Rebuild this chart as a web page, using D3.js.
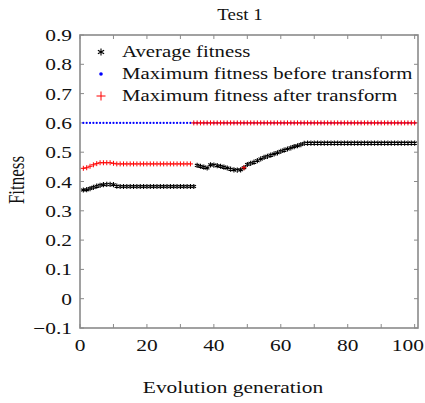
<!DOCTYPE html>
<html>
<head>
<meta charset="utf-8">
<script src="https://cdn.jsdelivr.net/npm/d3@7"></script>
<style>
body { margin: 0; background: #fff; }
text { font-family: "Liberation Serif", "Times New Roman", serif; fill: #111; }
</style>
</head>
<body>
<div class="chart"></div>
<script>
const width = 425;
const height = 403;

// generations 1..100
const gens = d3.range(1, 101);

// average fitness, first part (gens 1-34) and second part (gens 35-100)
const avgEarly = [0.371, 0.372, 0.376, 0.380, 0.384, 0.387, 0.389, 0.390, 0.390, 0.389,
    0.384, 0.383, 0.383, 0.383, 0.383, 0.383, 0.383, 0.383, 0.383, 0.383,
    0.383, 0.383, 0.383, 0.383, 0.383, 0.383, 0.383, 0.383, 0.383, 0.383,
    0.383, 0.383, 0.383, 0.383];
const avgLate = [0.455, 0.452, 0.449, 0.446, 0.457, 0.456, 0.454, 0.452, 0.449, 0.446,
    0.442, 0.440, 0.439, 0.440, 0.447, 0.458, 0.462, 0.466, 0.471, 0.477,
    0.482, 0.486, 0.490, 0.494, 0.498, 0.503, 0.507, 0.511, 0.515, 0.519,
    0.522, 0.526, 0.530, 0.531, 0.531, 0.531, 0.531, 0.531, 0.531, 0.531,
    0.531, 0.531, 0.531, 0.531, 0.531, 0.531, 0.531, 0.531, 0.531, 0.531,
    0.531, 0.531, 0.531, 0.531, 0.531, 0.531, 0.531, 0.531, 0.531, 0.531,
    0.531, 0.531, 0.531, 0.531, 0.531, 0.531];

// maximum fitness before transform (all generations)
const maxBefore = gens.map(() => 0.6);

// maximum fitness after transform: gens 1-33 low, gens 34-100 at 0.6
const maxAfterEarly = [0.445, 0.447, 0.452, 0.457, 0.461, 0.464, 0.464, 0.464, 0.464, 0.462,
    0.460, 0.460, 0.460, 0.460, 0.460, 0.460, 0.460, 0.460, 0.460, 0.460,
    0.460, 0.460, 0.460, 0.460, 0.460, 0.460, 0.460, 0.460, 0.460, 0.460,
    0.460, 0.460, 0.460];
const maxAfterLate = d3.range(34, 101).map(() => 0.6);
const maxAfterExtra = [[49, 0.447]];

const yTicks = [-0.1, 0, 0.1, 0.2, 0.3, 0.4, 0.5, 0.6, 0.7, 0.8, 0.9];
const xTickLabels = [0, 20, 40, 60, 80, 100];

const avgData = avgEarly.map((v, i) => [i + 1, v])
    .concat(avgLate.map((v, i) => [i + 35, v]));
const beforeData = maxBefore.map((v, i) => [gens[i], v]);
const afterData = maxAfterEarly.map((v, i) => [i + 1, v])
    .concat(maxAfterLate.map((v, i) => [i + 34, v]))
    .concat(maxAfterExtra);

const stretch = 1.3; // glyphs in the reference are wide

let svg = d3.select(".chart")
    .append("svg")
    .attr("width", width)
    .attr("height", height);

let x = d3.scaleLinear().domain([0, 101]).range([80, 418]);
let y = d3.scaleLinear().domain([-0.1, 0.9]).range([328, 35]);

const axisColor = "#8a8a8a";

// frame
svg.append("rect")
    .attr("x", x(0)).attr("y", y(0.9))
    .attr("width", x(101) - x(0)).attr("height", y(-0.1) - y(0.9))
    .attr("fill", "none").attr("stroke", axisColor).attr("stroke-width", 1.6);

// inward ticks
let xt = d3.range(0, 101, 10);
svg.selectAll(".xtb").data(xt).enter().append("line")
    .attr("x1", d => x(d)).attr("x2", d => x(d))
    .attr("y1", y(-0.1)).attr("y2", y(-0.1) - 4)
    .attr("stroke", axisColor);
svg.selectAll(".xtt").data(xt).enter().append("line")
    .attr("x1", d => x(d)).attr("x2", d => x(d))
    .attr("y1", y(0.9)).attr("y2", y(0.9) + 4)
    .attr("stroke", axisColor);
svg.selectAll(".ytl").data(yTicks).enter().append("line")
    .attr("x1", x(0)).attr("x2", x(0) + 4)
    .attr("y1", d => y(d)).attr("y2", d => y(d))
    .attr("stroke", axisColor);
svg.selectAll(".ytr").data(yTicks).enter().append("line")
    .attr("x1", x(101)).attr("x2", x(101) - 4)
    .attr("y1", d => y(d)).attr("y2", d => y(d))
    .attr("stroke", axisColor);

function label(txt, px, py, anchor, size, sx) {
    return svg.append("text")
        .attr("transform", `translate(${px},${py}) scale(${sx || stretch},1)`)
        .attr("text-anchor", anchor)
        .style("font-size", size + "px")
        .text(txt);
}

// tick labels
yTicks.forEach(d => {
    let s = d === 0 ? "0" : d3.format(".1f")(d).replace("-", "\u2212");
    label(s, 72, y(d) + 6, "end", 16.5);
});
xTickLabels.forEach(d => {
    if (d === 100) label(String(d), 424, 351, "end", 16.5);
    else label(String(d), x(d), 351, "middle", 16.5);
});

// titles
label("Test 1", 240, 20, "middle", 17.5, 1.08);
label("Evolution generation", 233, 393, "middle", 16.5);
svg.append("text")
    .attr("transform", `translate(24,180) rotate(-90) scale(1,${stretch})`)
    .attr("text-anchor", "middle")
    .style("font-size", "17px")
    .text("Fitness");

// markers
function asterisk(g, cx, cy, r, color) {
    let p = "";
    for (let k = 0; k < 3; k++) {
        let a = Math.PI / 2 + k * Math.PI / 3;
        let dx = r * Math.cos(a), dy = r * Math.sin(a);
        p += `M${cx - dx},${cy - dy}L${cx + dx},${cy + dy}`;
    }
    g.append("path").attr("d", p).attr("stroke", color).attr("stroke-width", 1.1).attr("fill", "none");
}
function plus(g, cx, cy, r, color) {
    g.append("path")
        .attr("d", `M${cx - r},${cy}L${cx + r},${cy}M${cx},${cy - r}L${cx},${cy + r}`)
        .attr("stroke", color).attr("stroke-width", 1).attr("fill", "none");
}

let plot = svg.append("g");

plot.selectAll(".blue").data(beforeData).enter().append("circle")
    .attr("cx", d => x(d[0])).attr("cy", d => y(d[1]))
    .attr("r", 1.1).attr("fill", "#0000ff");

let avgG = plot.append("g");
avgData.forEach(d => asterisk(avgG, x(d[0]), y(d[1]), 2.6, "#000"));

let redG = plot.append("g");
afterData.forEach(d => plus(redG, x(d[0]), y(d[1]), 2.5, "#ff0000"));

// legend
let lg = svg.append("g");
asterisk(lg, 101, 52, 3.6, "#000");
lg.append("circle").attr("cx", 101).attr("cy", 74).attr("r", 1.8).attr("fill", "#0000ff");
plus(lg, 101, 96, 4.5, "#ff0000");
label("Average fitness", 122, 57, "start", 16);
label("Maximum fitness before transform", 122, 79, "start", 16);
label("Maximum fitness after transform", 122, 101, "start", 16);
</script>
</body>
</html>
